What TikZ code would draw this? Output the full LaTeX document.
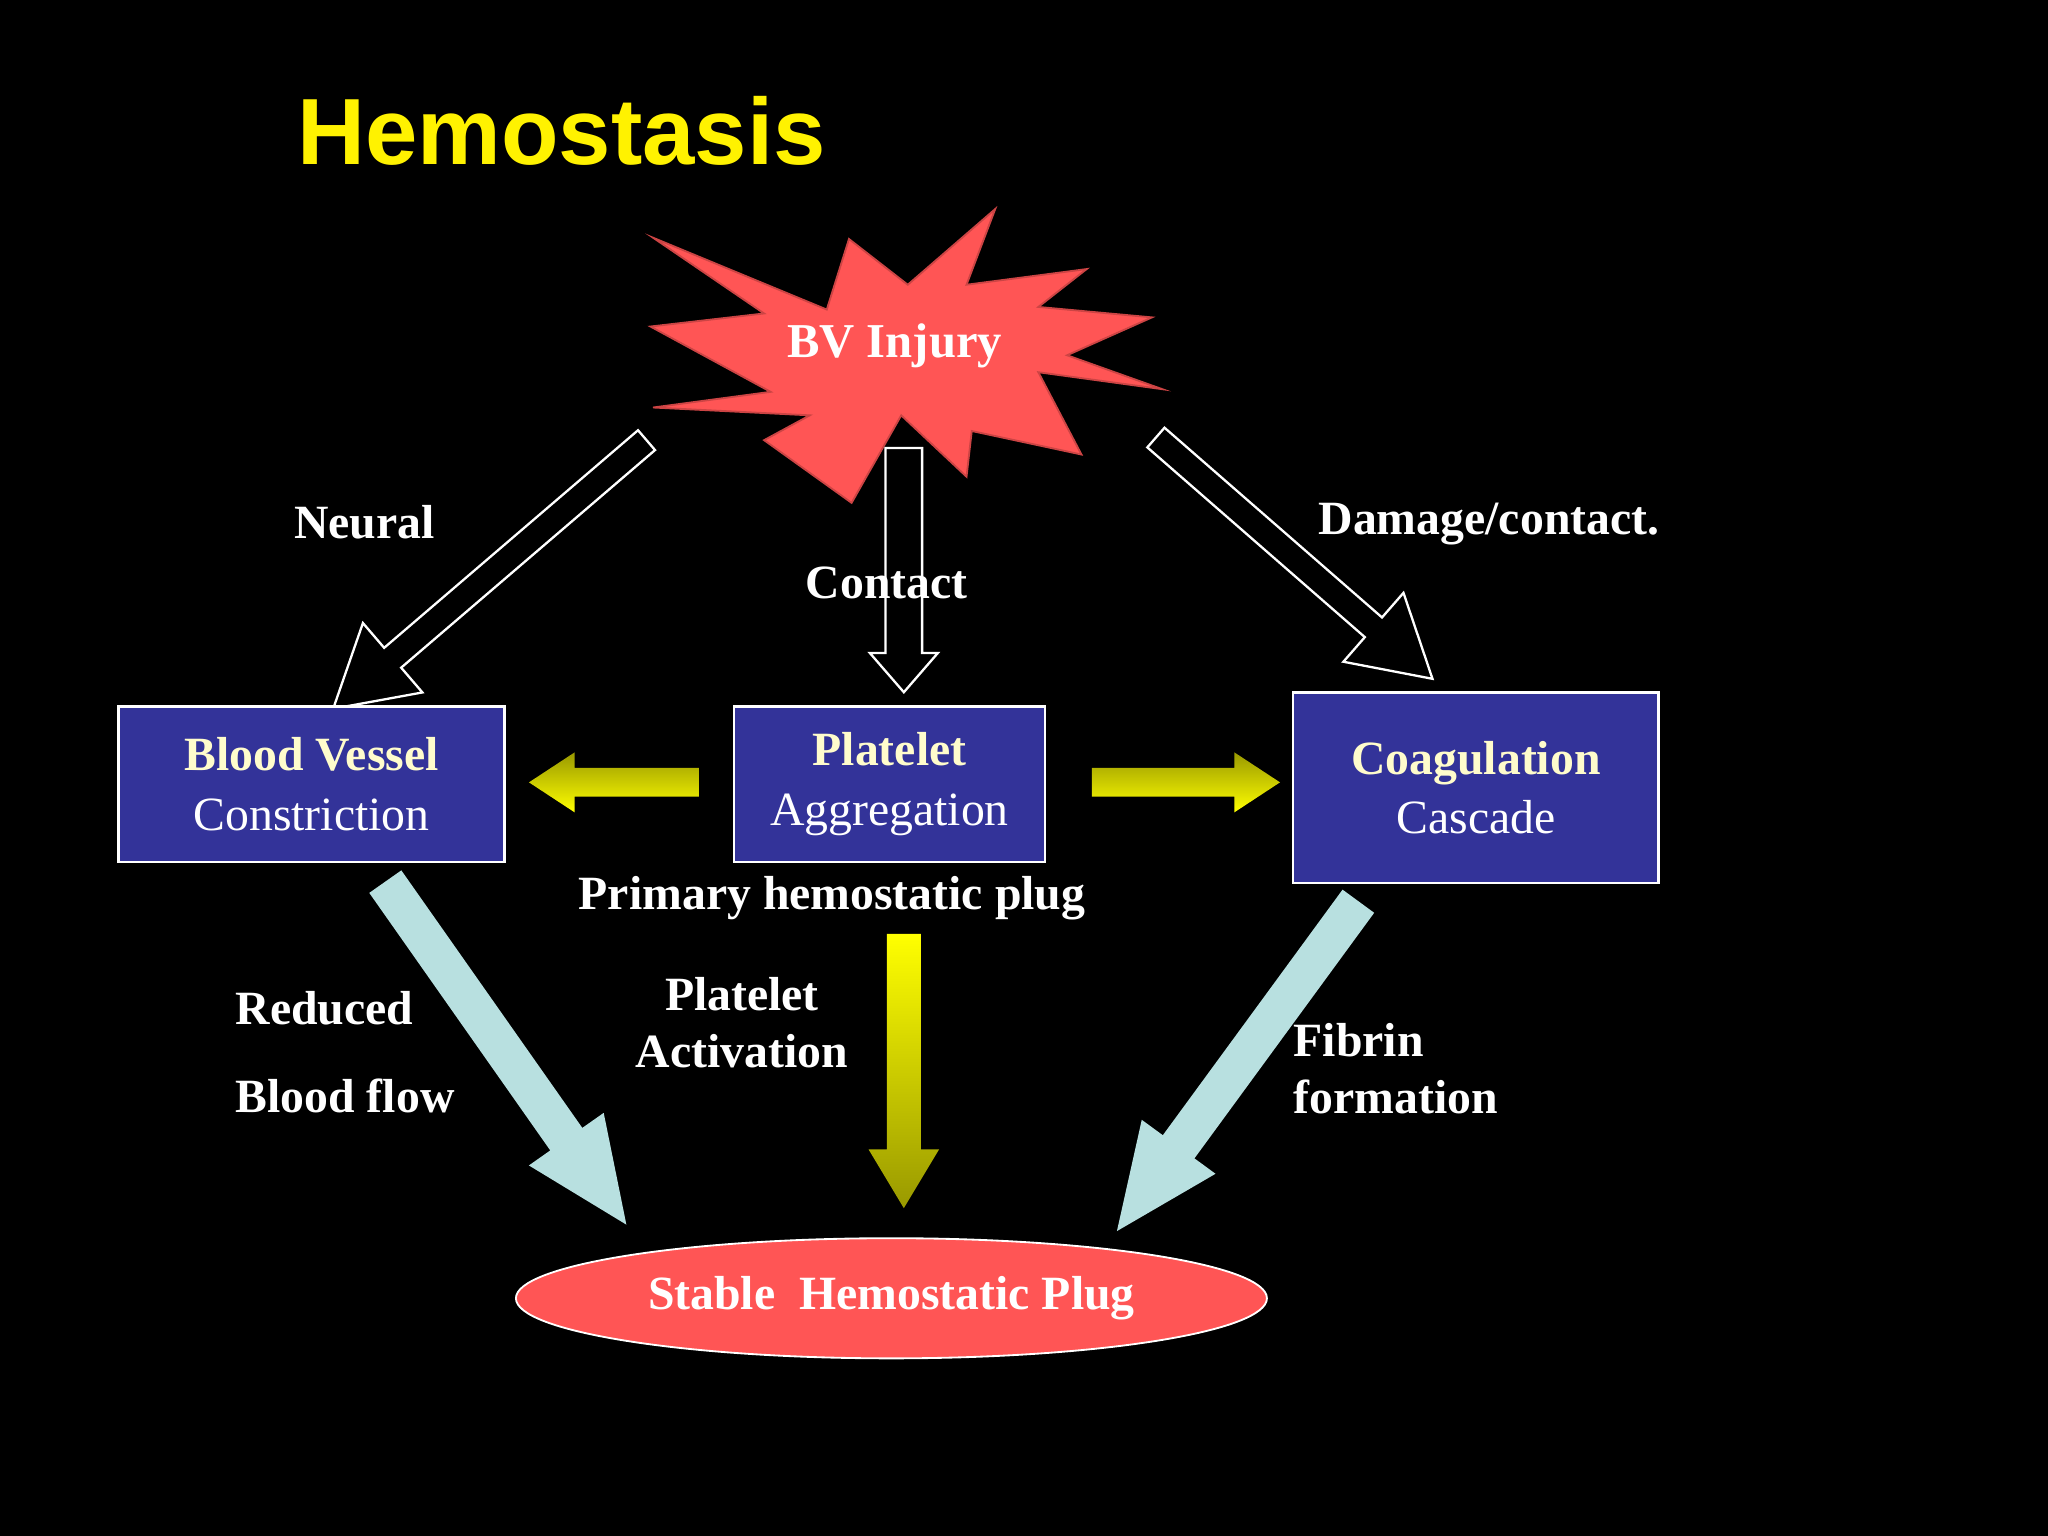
\documentclass[tikz,border=0pt]{standalone}
\usepackage{fontspec}
\setmainfont{Liberation Serif}
\newfontfamily\sansf{Liberation Sans}
\usetikzlibrary{shapes.geometric}
\definecolor{boxblue}{HTML}{333399}
\definecolor{redfill}{HTML}{FF5555}
\definecolor{lblue}{HTML}{B8E0E0}
% \blockarrow{x}{y}{angle}{length}{shaft half}{head half}{head length}{style}
\newcommand\blockarrow[8]{%
  \begin{scope}[shift={(#1,#2)},rotate=#3]
    \path[#8] (0,-#5) -- ({#4-#7},-#5) -- ({#4-#7},-#6) -- (#4,0)
      -- ({#4-#7},#6) -- ({#4-#7},#5) -- (0,#5) -- cycle;
  \end{scope}}
\begin{document}
\begin{tikzpicture}[x=0.1mm,y=0.1mm,
  txt/.style={text=white,font=\fontsize{10.4}{12.5}\selectfont\bfseries},
  box/.style={draw=white,fill=boxblue,line width=0.6pt,align=center,inner sep=0pt,
    font=\fontsize{10.4}{13}\selectfont,text=white},
  hollow/.style={draw=white,fill=black,line width=0.5pt},
  yel/.style={draw=none,left color=yellow!60!black,right color=yellow,shading angle=0},
  yelv/.style={draw=none,top color=yellow,bottom color=yellow!60!black},
  cyanarr/.style={fill=lblue,draw=none}]
\fill[black] (0,0) rectangle (1568,1176);
\node[text=yellow,font=\sansf\fontsize{20.5}{24}\selectfont\bfseries] (title) at (430,1076) {Hemostasis};
% starburst
\filldraw[fill=redfill,draw=redfill!80!black] (500,994) -- (585,936) -- (498,926) -- (590,876) -- (500,864)
  -- (620,858) -- (585,839) -- (652,791) -- (690,858) -- (740,811) -- (744,846) -- (828,828)
  -- (795,891) -- (890,878) -- (817,904) -- (882,933) -- (795,941) -- (832,970) -- (740,958)
  -- (762,1016) -- (695,958) -- (650,993) -- (633,939) -- cycle;
% hollow arrows
\blockarrow{495}{839}{220.6}{316}{10}{35}{60}{hollow}
\blockarrow{692}{833}{270}{187}{14}{26}{30}{hollow}
\blockarrow{885}{841}{-41.1}{281}{10}{35}{60}{hollow}
\node[txt,font=\fontsize{10.6}{12}\selectfont\bfseries] (inj) at (685,911) {BV Injury};
\node[txt] (neural) at (279,776) {Neural};
\node[txt] (contact) at (679,730) {Contact};
\node[txt] (damage) at (1140,775) {Damage/contact.};
% boxes
\node[box,minimum width=29.5mm,minimum height=11.9mm] (bv) at (238.5,575.5)
  {{\bfseries\color{yellow!20}Blood Vessel}\\Constriction};
\node[box,minimum width=23.8mm,minimum height=11.9mm] (pl) at (681,575.5)
  {{\bfseries\color{yellow!20}Platelet}\\Aggregation};
\node[box,minimum width=28mm,minimum height=14.6mm] (co) at (1130,573)
  {{\bfseries\color{yellow!20}Coagulation}\\Cascade};
% yellow arrows
\blockarrow{535}{577}{180}{130}{11}{23}{35}{yel}
\blockarrow{836}{577}{0}{144}{11}{23}{35}{yel}
\blockarrow{692}{461}{270}{210}{13}{27}{45}{yelv}
\node[txt] (prim) at (637,488) {Primary hemostatic plug};
% light blue arrows
\blockarrow{295}{501}{-54.9}{321}{15}{35}{80}{cyanarr}
\blockarrow{1040}{486}{233.8}{313}{15}{35}{80}{cyanarr}
\node[txt,anchor=west] (red) at (168,404) {Reduced};
\node[txt,anchor=west] (bf) at (168,337) {Blood flow};
\node[txt,align=center,font=\fontsize{10.4}{12.5}\selectfont\bfseries] (act) at (568,393) {Platelet\\Activation};
\node[txt,anchor=west,align=left,font=\fontsize{10.4}{12.5}\selectfont\bfseries] (fib) at (978,358) {Fibrin\\formation};
% ellipse
\node[ellipse,draw=white,fill=redfill,minimum width=57.5mm,minimum height=9.2mm,inner sep=0pt,
  txt] (plug) at (682.5,182) {Stable\ \ Hemostatic Plug};
\end{tikzpicture}
\end{document}
